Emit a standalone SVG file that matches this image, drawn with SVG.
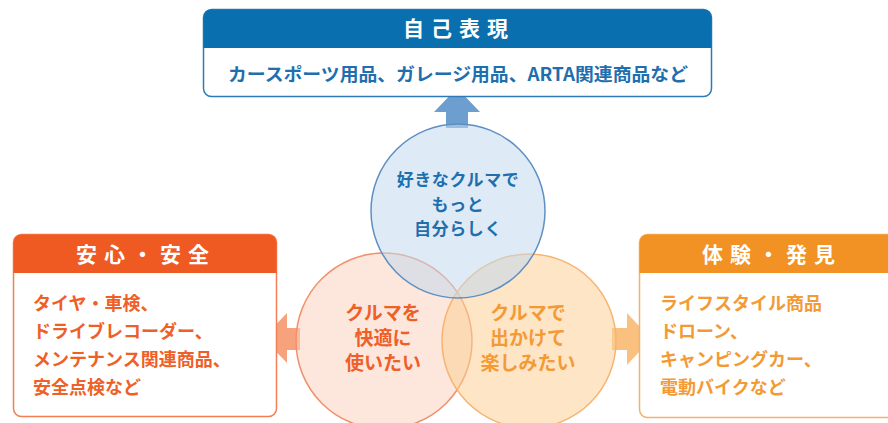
<svg xmlns="http://www.w3.org/2000/svg" width="888" height="423" viewBox="0 0 888 423">
<style>
text{font-family:"Noto Sans CJK JP","Noto Sans CJK SC",sans-serif;font-weight:bold}
.hd{fill:#ffffff;font-size:21px;letter-spacing:7px;text-anchor:middle}
.ctr{text-anchor:middle;font-size:19px}
.ctr2{text-anchor:middle;font-size:17px;letter-spacing:0.6px}
.b{fill:#1f6fae}.o{fill:#ef5f28}.y{fill:#f49a35}
.bt{font-size:18px}
</style>
<rect width="888" height="423" fill="#ffffff"/>
<g id="connectors">
<polygon points="457,88 434,112 446,112 446,128 468,128 468,112 480,112" fill="#6d9ed0"/>
<polygon points="263,338 287,313 287,328 300,328 300,350 287,350 287,363" fill="#f6a27c"/>
<polygon points="651,339 627,313 627,328 612,328 612,350 627,350 627,365" fill="#f9c07f"/>
</g>
<g id="circle-left">
<circle cx="384" cy="341" r="88" fill="#fbd2bf" fill-opacity="0.55" stroke="#f0916c" stroke-width="1.5"/>
</g>
<g id="circle-right">
<circle cx="529" cy="341" r="87" fill="#fbcf98" fill-opacity="0.55" stroke="#f6b470" stroke-width="1.5"/>
</g>
<g id="circle-top">
<circle cx="458" cy="211" r="87" fill="#c3d8ec" fill-opacity="0.55" stroke="#5d8fc2" stroke-width="1.5"/>
</g>
<g id="circle-texts">
<text class="ctr2 b" x="458" y="186">好きなクルマで</text>
<text class="ctr2 b" x="458" y="210.7">もっと</text>
<text class="ctr2 b" x="458" y="235.4">自分らしく</text>
<text class="ctr o" x="383" y="320">クルマを</text>
<text class="ctr o" x="383" y="345">快適に</text>
<text class="ctr o" x="383" y="370">使いたい</text>
<text class="ctr y" x="528" y="320">クルマで</text>
<text class="ctr y" x="528" y="345">出かけて</text>
<text class="ctr y" x="528" y="370">楽しみたい</text>
</g>
<g id="box-top">
<rect x="203.5" y="9.5" width="508" height="87" rx="8" fill="#ffffff" stroke="#2c7bb8" stroke-width="1.5"/>
<path d="M203.5,48 V17.5 a8,8 0 0 1 8,-8 H703.5 a8,8 0 0 1 8,8 V48 Z" fill="#0a6fae"/>
<text class="hd" x="459" y="36">自己表現</text>
<text class="bt b" x="458" y="81" text-anchor="middle" textLength="460" lengthAdjust="spacingAndGlyphs">カースポーツ用品、ガレージ用品、ARTA関連商品など</text>
</g>
<g id="box-left">
<rect x="13.5" y="234.5" width="263" height="182" rx="8" fill="#ffffff" stroke="#f27f52" stroke-width="1.5"/>
<path d="M13.5,273 V242.5 a8,8 0 0 1 8,-8 H268.5 a8,8 0 0 1 8,8 V273 Z" fill="#ef5a23"/>
<text class="hd" x="146" y="262">安心・安全</text>
<text class="bt o" x="33" y="310">タイヤ・車検、</text>
<text class="bt o" x="33" y="338">ドライブレコーダー、</text>
<text class="bt o" x="33" y="366">メンテナンス関連商品、</text>
<text class="bt o" x="33" y="394">安全点検など</text>
</g>
<g id="box-right">
<rect x="639.5" y="234.5" width="260" height="183" rx="8" fill="#ffffff" stroke="#f7b167" stroke-width="1.5"/>
<path d="M639.5,273 V242.5 a8,8 0 0 1 8,-8 H899.5 V273 Z" fill="#f39224"/>
<text class="hd" x="772" y="262">体験・発見</text>
<text class="bt y" x="660" y="310">ライフスタイル商品</text>
<text class="bt y" x="660" y="338">ドローン、</text>
<text class="bt y" x="660" y="366">キャンピングカー、</text>
<text class="bt y" x="660" y="394">電動バイクなど</text>
</g>
</svg>
